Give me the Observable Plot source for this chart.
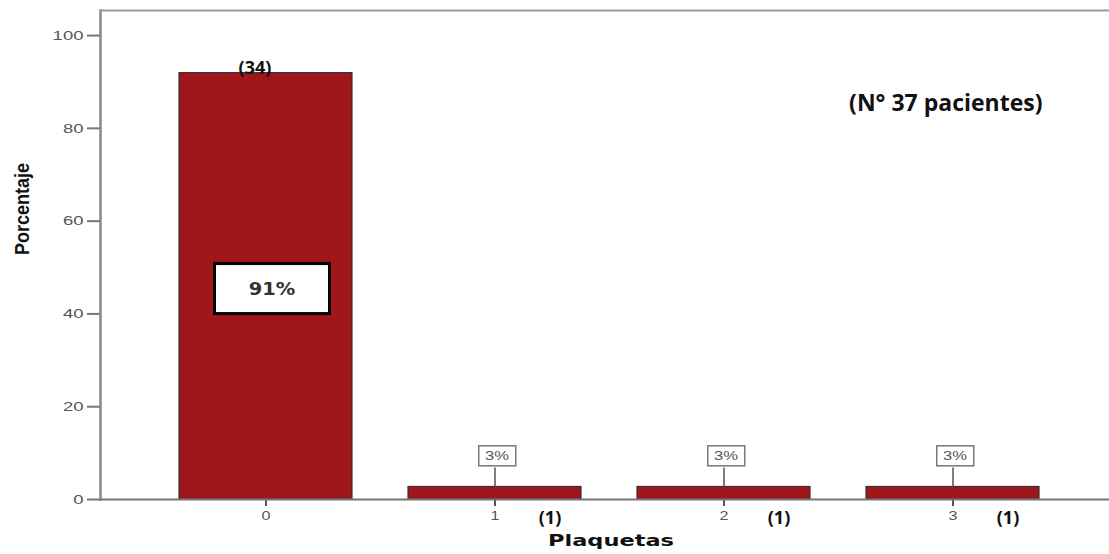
<!DOCTYPE html>
<html><head><meta charset="utf-8">
<script src="https://cdn.jsdelivr.net/npm/d3@7"></script>
<script src="https://cdn.jsdelivr.net/npm/@observablehq/plot@0.6"></script>
<style>body{margin:0;background:#fff;}</style>
</head><body><div id="chart"></div>
<script>
const categories = ["0", "1", "2", "3"];
const percentages = [91.9, 2.7, 2.7, 2.7];
const counts = [34, 1, 1, 1];
const pctLabels = ["91%", "3%", "3%", "3%"];
const yTicks = [0, 20, 40, 60, 80, 100];
const xTitle = "Plaquetas";
const yTitle = "Porcentaje";
const note = "(N° 37 pacientes)";

const rows = categories.map((c, i) => ({cat: c, pct: percentages[i], n: counts[i], label: pctLabels[i]}));
const big = rows.filter(d => d.pct > 50);
const small = rows.filter(d => d.pct <= 50);

const chart = Plot.plot({
  width: 1109, height: 554,
  marginLeft: 100, marginRight: 0, marginTop: 10, marginBottom: 55,
  style: {background: "#fff", fontFamily: "Liberation Sans, Arial, sans-serif"},
  x: {type: "band", domain: categories, range: [100, 1118.8], paddingInner: 0.243, paddingOuter: 0.343},
  y: {domain: [0, 105.4]},
  marks: [
    Plot.barY(rows, {x: "cat", y: "pct", fill: "#A0161A", stroke: "#333", strokeWidth: 1.2}),
    Plot.axisY({ticks: yTicks, tickSize: 13, tickPadding: 4, stroke: "#777", strokeWidth: 2, fill: "#555", fontSize: 13, label: null, className: "yax"}),
    Plot.axisX({tickSize: 7, tickPadding: 5, stroke: "#555", strokeWidth: 2, fill: "#555", fontSize: 12, label: null, className: "xax"}),
    Plot.frame({anchor: "left", stroke: "#888", strokeWidth: 2.5}),
    Plot.frame({anchor: "bottom", stroke: "#777", strokeWidth: 2}),
    Plot.frame({anchor: "top", stroke: "#999", strokeWidth: 2}),
    Plot.ruleX(small, {x: "cat", y1: "pct", y2: d => d.pct + 4.1, stroke: "#555", strokeWidth: 1.5}),
    Plot.text(big, {x: "cat", y: d => d.pct / 2, text: "label", dx: 6, dy: 3, fontSize: 18, fontWeight: "bold", fill: "#333", fontFamily: "DejaVu Sans", className: "pctbig"}),
    Plot.text(small, {x: "cat", y: "pct", text: "label", dx: 2, dy: -31, fontSize: 12, fill: "#555", fontFamily: "Liberation Sans", className: "pctsmall"}),
    Plot.text(big, {x: "cat", y: "pct", text: d => `(${d.n})`, dx: -11, dy: -5, fontSize: 18, fontWeight: "bold", fill: "#111", fontFamily: "Open Sans"}),
    Plot.text(small, {x: "cat", y: 0, text: d => `(${d.n})`, dx: 55, dy: 19, fontSize: 18, fontWeight: "bold", fill: "#111", fontFamily: "Open Sans"}),
    Plot.text([note], {frameAnchor: "top-right", textAnchor: "end", dx: -67, dy: 84, fontSize: 23, fontWeight: "bold", fill: "#111", fontFamily: "Open Sans"}),
    Plot.text([yTitle], {frameAnchor: "left", rotate: -90, dx: -78, fontSize: 20, fontWeight: "bold", fill: "#111", fontFamily: "Liberation Sans Narrow, Liberation Sans", className: "ytitle"}),
    Plot.text([xTitle], {frameAnchor: "bottom", dx: 6, dy: 46, fontSize: 15, fontWeight: "bold", fill: "#111", fontFamily: "DejaVu Sans", className: "xtitle"})
  ]
});
document.getElementById("chart").appendChild(chart);

const svg = d3.select(chart);
function boxes(sel, w, h, stroke, sw) {
  svg.selectAll(sel + " text").each(function() {
    const b = this.getBBox();
    const cx = b.x + b.width / 2, cy = b.y + b.height / 2;
    const r = document.createElementNS("http://www.w3.org/2000/svg", "rect");
    r.setAttribute("x", cx - w / 2); r.setAttribute("y", cy - h / 2);
    r.setAttribute("width", w); r.setAttribute("height", h);
    r.setAttribute("fill", "#fff"); r.setAttribute("stroke", stroke); r.setAttribute("stroke-width", sw);
    const t = this.getAttribute("transform");
    if (t) r.setAttribute("transform", t);
    this.parentNode.insertBefore(r, this);
  });
}
function stretch(sel, perChar) {
  svg.selectAll(sel + " text").each(function() {
    const n = this.textContent.length;
    this.setAttribute("textLength", n * perChar);
    this.setAttribute("lengthAdjust", "spacingAndGlyphs");
  });
}
stretch(".pctsmall", 12);
stretch(".pctbig", 15.5);
boxes(".pctbig", 115, 50, "#000", 3);
boxes(".pctsmall", 37, 20, "#777", 1.5);
stretch(".yax", 10.3);
stretch(".xax", 9);
svg.selectAll(".xtitle text").attr("textLength", 126).attr("lengthAdjust", "spacingAndGlyphs");
svg.selectAll(".ytitle text").attr("textLength", 92).attr("lengthAdjust", "spacingAndGlyphs");
</script></body></html>
